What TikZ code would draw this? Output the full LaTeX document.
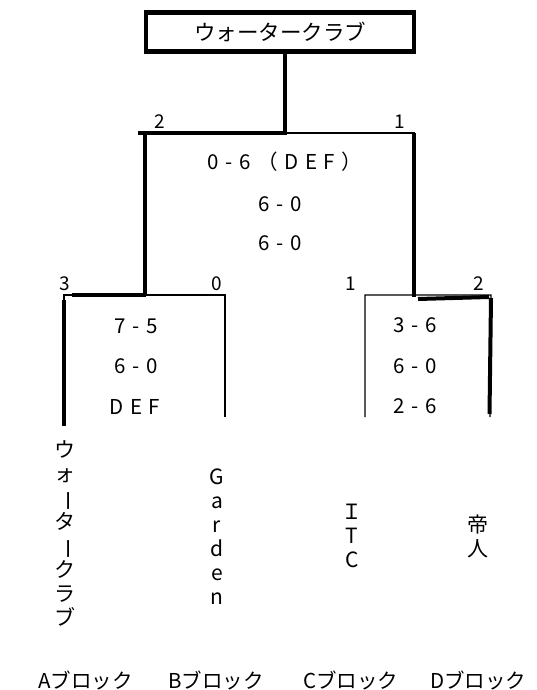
\documentclass[tikz,border=0pt]{standalone}
\usepackage{fontspec}
\usepackage{graphicx}
\setmainfont{Noto Sans CJK JP}
% long vowel mark set upright for vertical writing
\newcommand\tatebo{\rotatebox[origin=c]{-90}{ー}}
\begin{document}
\begin{tikzpicture}[x=1pt,y=-1pt,
  thinline/.style={line width=1.2pt},
  winline/.style={line width=4pt},
  titlebox/.style={draw,line width=4.5pt,minimum width=268pt,minimum height=39pt,inner sep=0pt,
    font=\fontsize{21.5}{25}\selectfont},
  score/.style={inner sep=0pt,font=\fontsize{20.5}{24}\selectfont,
    execute at begin node={\spaceskip=0.32em\relax}},
  seed/.style={inner sep=0pt,font=\fontsize{19}{22}\selectfont},
  team/.style={inner sep=0pt,align=center,font=\fontsize{21}{24}\selectfont},
  block/.style={inner sep=0pt,anchor=west,font=\fontsize{20.5}{24}\selectfont}]
\useasboundingbox (0,0) rectangle (536,690);

% champion
\node[titlebox] (title) at (280,32) {\raisebox{-4pt}{ウォータークラブ}};

% bracket joints
\coordinate (stemtop) at (285,51.5);
\coordinate (semiM) at (285,133);
\coordinate (semiL) at (145,133);
\coordinate (semiLx) at (138,133);
\coordinate (semiR) at (414,133);
\coordinate (qfL) at (145,295);
\coordinate (qfR) at (414,295);
\coordinate (aTop) at (64,295);
\coordinate (aBot) at (64,426);
\coordinate (bTop) at (225,295);
\coordinate (bBot) at (225,417);
\coordinate (cTop) at (365,295);
\coordinate (cBot) at (365,417);
\coordinate (dTop) at (491,295);
\coordinate (dBot) at (490,417);

% plain bracket lines
\draw[thinline] (semiL) -- (semiR) -- (qfR);
\draw[thinline] (aBot) -- (aTop) -- (bTop) -- (bBot);
\draw[thinline] (cBot) -- (cTop) -- (dTop) -- (dBot);

% path of the winners
\draw[winline] (stemtop) -- (285,135);
\draw[winline] (semiLx) -- (semiM);
\draw[winline] (semiL) -- (qfL);
\draw[winline] (146,295) -- (72,295);
\draw[winline] (64,300) -- (aBot);
\draw[winline] (semiR) -- (414,297);
\draw[winline] (418,299) -- (489,297);
\draw[winline] (491,298) -- (489.5,414);

% games won
\node[seed] (sw2) at (160,122) {2};
\node[seed] (sw1) at (400,122) {1};
\node[seed] (qa) at (65,284) {3};
\node[seed] (qb) at (217,284) {0};
\node[seed] (qc) at (351,284) {1};
\node[seed] (qd) at (479,284) {2};

% set scores
\node[score] (f1) at (285,162) {0 - 6 （ D E F ）};
\node[score] (f2) at (280,204) {6 - 0};
\node[score] (f3) at (280,243) {6 - 0};
\node[score] (l1) at (136,326) {7 - 5};
\node[score] (l2) at (136,366) {6 - 0};
\node[score] (l3) at (135,407) {D E F};
\node[score] (r1) at (415,325) {3 - 6};
\node[score] (r2) at (415,366) {6 - 0};
\node[score] (r3) at (415,406) {2 - 6};

% teams, written vertically
\node[team] (ta) at (65,533) {ウ\\ォ\\\tatebo\\タ\\\tatebo\\ク\\ラ\\ブ};
\node[team] (tb) at (217,537) {G\\a\\r\\d\\e\\n};
\node[team] (tc) at (352,536) {Ｉ\\T\\C};
\node[team] (td) at (478,536) {帝\\人};

% blocks
\node[block] (ba) at (38,680) {Aブロック};
\node[block] (bb) at (168,680) {Bブロック};
\node[block] (bc) at (303,680) {Cブロック};
\node[block] (bd) at (430,680) {Dブロック};
\end{tikzpicture}
\end{document}
